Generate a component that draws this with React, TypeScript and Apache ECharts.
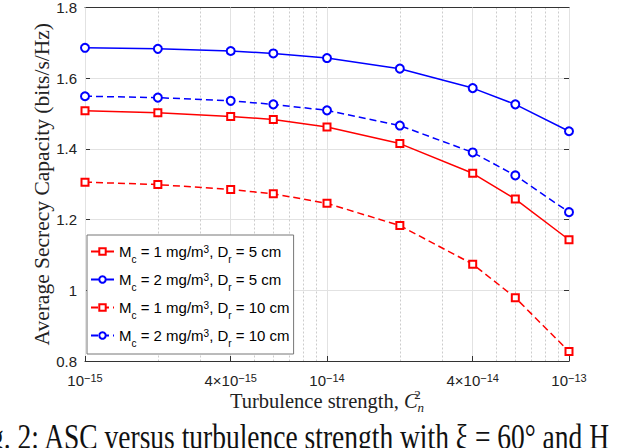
import { useEffect, useRef } from "react";
import * as echarts from "echarts";

// turbulence strength C_n^2 (x) and average secrecy capacity (y)
const TURBULENCE = [1e-15, 2e-15, 4e-15, 6e-15, 1e-14, 2e-14, 4e-14, 6e-14, 1e-13];
const ASC_M1_D5 = [1.508, 1.502, 1.492, 1.483, 1.462, 1.415, 1.331, 1.258, 1.143];
const ASC_M2_D5 = [1.686, 1.683, 1.677, 1.67, 1.657, 1.627, 1.572, 1.526, 1.45];
const ASC_M1_D10 = [1.306, 1.299, 1.285, 1.273, 1.246, 1.183, 1.074, 0.979, 0.827];
const ASC_M2_D10 = [1.549, 1.545, 1.536, 1.526, 1.509, 1.466, 1.39, 1.325, 1.221];

const SERIES_NAMES = ["m1d5", "m2d5", "m1d10", "m2d10"];
const LEGEND_LABELS = [
  "M{sub|c} = 1 mg/m{sup|3}, D{sub|r} = 5 cm",
  "M{sub|c} = 2 mg/m{sup|3}, D{sub|r} = 5 cm",
  "M{sub|c} = 1 mg/m{sup|3}, D{sub|r} = 10 cm",
  "M{sub|c} = 2 mg/m{sup|3}, D{sub|r} = 10 cm",
];

const X_MIN = 1e-15;
const X_MAX = 1e-13;
const X_TICKS = [1e-15, 4e-15, 1e-14, 4e-14, 1e-13];
const X_TICK_LABELS = [
  "{b|10}{sup|−15}",
  "{b|4×10}{sup|−15}",
  "{b|10}{sup|−14}",
  "{b|4×10}{sup|−14}",
  "{b|10}{sup|−13}",
];
const X_MINOR = [2e-15, 3e-15, 5e-15, 6e-15, 7e-15, 8e-15, 9e-15, 2e-14, 3e-14, 5e-14, 6e-14, 7e-14, 8e-14, 9e-14];

const Y_MIN = 0.8;
const Y_MAX = 1.8;
const Y_STEP = 0.2;

const X_NAME = "{r|Turbulence strength, }{it|C}{sup|2}{sub|n}";
const Y_NAME = "Average Secrecy Capacity (bits/s/Hz)";
const CAPTION = "Fig. 2: ASC versus turbulence strength with ξ = 60° and H";

const SANS = "'Liberation Sans', Arial, sans-serif";
const SERIF = "'Liberation Serif', 'Times New Roman', serif";
const AXIS_COLOR = "#333";
const GRID_COLOR = "#e2e2e2";

function pair(ys: number[]) {
  return TURBULENCE.map((x, i) => [x, ys[i]]);
}

function tickLabel(v: number) {
  const i = X_TICKS.findIndex((t) => Math.abs(Math.log10(t) - Math.log10(v)) < 1e-6);
  return i >= 0 ? X_TICK_LABELS[i] : "";
}

export default function App() {
  const ref = useRef<HTMLDivElement>(null);

  useEffect(() => {
    if (!ref.current) return;
    const chart = echarts.init(ref.current, undefined, { renderer: "svg" });

    const lineSeries = (name: string, ys: number[], color: string, dashed: boolean, symbol: string, size: number) => ({
      name,
      type: "line" as const,
      data: pair(ys),
      symbol,
      symbolSize: size,
      color,
      lineStyle: { color, width: 1.5, type: dashed ? [7, 4] : "solid" },
      itemStyle: { color, borderColor: color, borderWidth: 1.3 },
      z: 3,
    });

    chart.setOption({
      animation: false,
      grid: { left: 85, right: 53, top: 7, bottom: 87 },
      xAxis: [
        {
          type: "log",
          min: X_MIN,
          max: X_MAX,
          axisLine: { show: true, lineStyle: { color: AXIS_COLOR, width: 1 } },
          axisTick: { show: true, inside: true, length: 5, customValues: X_TICKS, lineStyle: { color: AXIS_COLOR } },
          axisLabel: {
            customValues: X_TICKS,
            formatter: tickLabel,
            margin: 9,
            color: "#222",
            fontFamily: SANS,
            fontSize: 15,
            lineHeight: 20,
            rich: {
              b: { fontSize: 15, fontFamily: SANS, color: "#222" },
              sup: { fontSize: 11, fontFamily: SANS, color: "#222", verticalAlign: "top", padding: [2, 0, 0, 0] },
            },
          },
          splitLine: { show: true, lineStyle: { color: GRID_COLOR, width: 1 } },
          name: X_NAME,
          nameLocation: "middle",
          nameGap: 27,
          nameMoveOverlap: false,
          nameTextStyle: {
            fontFamily: SERIF,
            fontSize: 20.5,
            color: "#222",
            lineHeight: 26,
            rich: {
              r: { fontFamily: SERIF, fontSize: 20.5, color: "#222" },
              it: { fontFamily: SERIF, fontSize: 20.5, fontStyle: "italic", color: "#222" },
              sup: { fontFamily: SERIF, fontSize: 13, color: "#222", verticalAlign: "top", width: 0, align: "left" },
              sub: { fontFamily: SERIF, fontSize: 13, fontStyle: "italic", color: "#222", verticalAlign: "bottom" },
            },
          },
          z: 1,
        },
        {
          type: "log",
          position: "top",
          min: X_MIN,
          max: X_MAX,
          axisLine: { show: true, lineStyle: { color: AXIS_COLOR, width: 1 } },
          axisTick: { show: true, inside: true, length: 5, customValues: X_TICKS, lineStyle: { color: AXIS_COLOR } },
          axisLabel: { show: false },
          splitLine: { show: false },
        },
        {
          // minor grid of the log axis
          type: "log",
          position: "bottom",
          min: X_MIN,
          max: X_MAX,
          axisLine: { show: false },
          axisTick: { show: false, customValues: X_MINOR },
          axisLabel: { show: false },
          splitLine: { show: true, lineStyle: { color: "#cccccc", width: 1, type: [2, 2] } },
          z: 0,
        },
      ],
      yAxis: [
        {
          type: "value",
          min: Y_MIN,
          max: Y_MAX,
          interval: Y_STEP,
          axisLine: { show: true, lineStyle: { color: AXIS_COLOR, width: 1 } },
          axisTick: { show: true, inside: true, length: 5, lineStyle: { color: AXIS_COLOR } },
          axisLabel: { margin: 8, color: "#222", fontFamily: SANS, fontSize: 15 },
          splitLine: { show: true, lineStyle: { color: GRID_COLOR, width: 1 } },
          name: Y_NAME,
          nameLocation: "middle",
          nameGap: 32,
          nameMoveOverlap: false,
          nameRotate: 90,
          nameTextStyle: { fontFamily: SERIF, fontSize: 21.5, color: "#222" },
        },
        {
          type: "value",
          position: "right",
          min: Y_MIN,
          max: Y_MAX,
          interval: Y_STEP,
          axisLine: { show: true, lineStyle: { color: AXIS_COLOR, width: 1 } },
          axisTick: { show: true, inside: true, length: 5, lineStyle: { color: AXIS_COLOR } },
          axisLabel: { show: false },
          splitLine: { show: false },
        },
      ],
      legend: {
        data: SERIES_NAMES,
        orient: "vertical",
        left: 87,
        top: 235,
        padding: [4, 4, 6, 3],
        itemGap: 3,
        itemWidth: 23,
        itemHeight: 8,
        backgroundColor: "#fff",
        borderColor: "#777",
        borderWidth: 1,
        borderRadius: 0,
        formatter: (name: string) => LEGEND_LABELS[SERIES_NAMES.indexOf(name)],
        textStyle: {
          fontFamily: SANS,
          fontSize: 15,
          color: "#000",
          lineHeight: 25,
          rich: {
            sub: { fontFamily: SANS, fontSize: 10, color: "#000", verticalAlign: "bottom" },
            sup: { fontFamily: SANS, fontSize: 10, color: "#000", verticalAlign: "top", padding: [5, 0, 0, 0] },
          },
        },
      },
      series: [
        lineSeries(SERIES_NAMES[0], ASC_M1_D5, "#ff0000", false, "emptyRect", 7),
        lineSeries(SERIES_NAMES[1], ASC_M2_D5, "#0000ff", false, "emptyCircle", 8),
        lineSeries(SERIES_NAMES[2], ASC_M1_D10, "#ff0000", true, "emptyRect", 7),
        lineSeries(SERIES_NAMES[3], ASC_M2_D10, "#0000ff", true, "emptyCircle", 8),
      ],
      graphic: [
        {
          type: "text",
          left: -33,
          top: 419,
          silent: true,
          scaleY: 1.28,
          style: { text: CAPTION, fontFamily: SERIF, fontSize: 27.5, fill: "#111" },
        },
      ],
    });

    return () => chart.dispose();
  }, []);

  return <div ref={ref} style={{ position: "fixed", left: 0, top: 0, width: 622, height: 448, background: "#fff" }} />;
}
